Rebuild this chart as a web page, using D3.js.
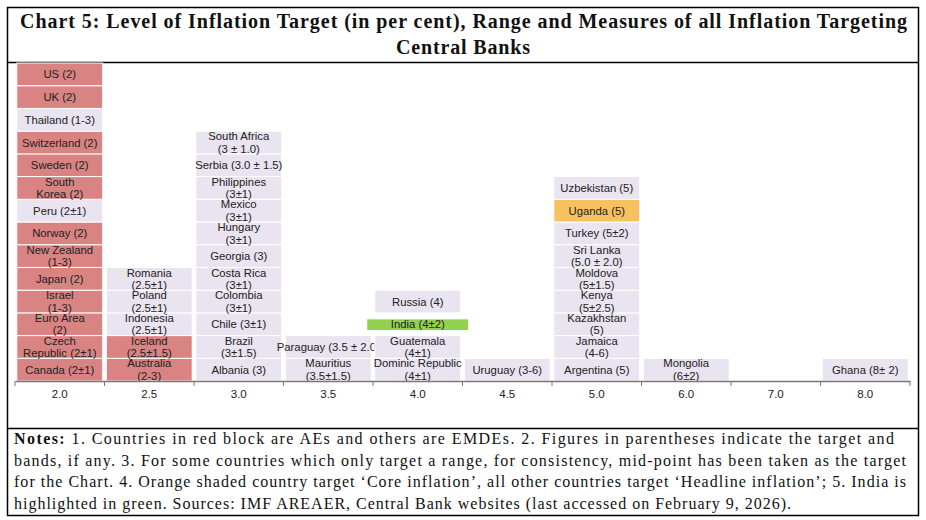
<!DOCTYPE html>
<html><head><meta charset="utf-8">
<script src="https://cdn.jsdelivr.net/npm/d3@7"></script>
<style>body{margin:0;background:#fff}</style></head>
<body><svg id="c" width="926" height="520"></svg>
<script>
const categories = ["2.0","2.5","3.0","3.5","4.0","4.5","5.0","6.0","7.0","8.0"];
// labels per column, bottom to top; "|" = line break
const col20 = ["Canada (2±1)","Czech|Republic (2±1)","Euro Area|(2)","Israel|(1-3)","Japan (2)","New Zealand|(1-3)","Norway (2)","Peru (2±1)","South|Korea (2)","Sweden (2)","Switzerland (2)","Thailand (1-3)","UK (2)","US (2)"];
const type20 = ["ae","ae","ae","ae","ae","ae","ae","em","ae","ae","ae","em","ae","ae"];
const col25 = ["Australia|(2-3)","Iceland|(2.5±1.5)","Indonesia|(2.5±1)","Poland|(2.5±1)","Romania|(2.5±1)"];
const type25 = ["ae","ae","em","em","em"];
const col30 = ["Albania (3)","Brazil|(3±1.5)","Chile (3±1)","Colombia|(3±1)","Costa Rica|(3±1)","Georgia (3)","Hungary|(3±1)","Mexico|(3±1)","Philippines|(3±1)","Serbia (3.0 ± 1.5)","South Africa|(3 ± 1.0)"];
const col35 = ["Mauritius|(3.5±1.5)","Paraguay (3.5 ± 2.0)"];
const col40 = ["Dominic Republic|(4±1)","Guatemala|(4±1)","India (4±2)","Russia (4)"];
const type40 = ["em","em","india","em"];
const col45 = ["Uruguay (3-6)"];
const col50 = ["Argentina (5)","Jamaica|(4-6)","Kazakhstan|(5)","Kenya|(5±2.5)","Moldova|(5±1.5)","Sri Lanka|(5.0 ± 2.0)","Turkey (5±2)","Uganda (5)","Uzbekistan (5)"];
const type50 = ["em","em","em","em","em","em","em","core","em"];
const col60 = ["Mongolia|(6±2)"];
const col70 = [];
const col80 = ["Ghana (8± 2)"];
const columns = [col20,col25,col30,col35,col40,col45,col50,col60,col70,col80];
const types = [type20,type25,null,null,type40,null,type50,null,null,null];

const colors = {ae:"#d98383", em:"#e9e4f0", india:"#92d050", core:"#f7c160"};
const svg = d3.select("#c");
svg.append("rect").attr("x",7.5).attr("y",7.5).attr("width",911).attr("height",508).attr("fill","none").attr("stroke","#000").attr("stroke-width",1.5);
svg.append("line").attr("x1",7).attr("x2",919).attr("y1",62.5).attr("y2",62.5).attr("stroke","#000").attr("stroke-width",1.5);
svg.append("line").attr("x1",7).attr("x2",919).attr("y1",428.5).attr("y2",428.5).attr("stroke","#000").attr("stroke-width",1.5);
const tf = "'Liberation Serif','DejaVu Serif',serif";
svg.append("text").attr("x",20).attr("y",28).attr("font-family",tf).attr("font-weight","bold").attr("font-size",20).attr("fill","#111")
  .attr("textLength",887).attr("lengthAdjust","spacing")
  .text("Chart 5: Level of Inflation Target (in per cent), Range and Measures of all Inflation Targeting");
svg.append("text").attr("x",463).attr("y",54).attr("text-anchor","middle").attr("font-family",tf).attr("font-weight","bold").attr("font-size",20).attr("fill","#111")
  .attr("textLength",134).attr("lengthAdjust","spacing").text("Central Banks");

const x = d3.scaleBand().domain(categories).range([15,910]).paddingInner(0.04).paddingOuter(0.02);
const maxN = 14;
const y = d3.scaleLinear().domain([0,maxN]).range([381,63]);
const sf = "'Liberation Sans',Arial,sans-serif";
columns.forEach((col,ci)=>{
  const cat = categories[ci];
  col.forEach((lab,i)=>{
    const t = types[ci] ? types[ci][i] : "em";
    const wide = t==="india" ? 8 : 0;
    const g = svg.append("g");
    const h = y(i)-y(i+1);
    g.append("rect").attr("x",x(cat)-wide).attr("y",y(i+1)+(t==="india"?6:0)).attr("width",x.bandwidth()+2*wide)
      .attr("height",t==="india"?h-11:h).attr("fill",colors[t]).attr("stroke","#fff").attr("stroke-width",1);
    const lines = lab.split("|");
    const cy = (y(i)+y(i+1))/2;
    lines.forEach((ln,k)=>{
      g.append("text").attr("x",x(cat)+x.bandwidth()/2)
        .attr("y",cy + (k-(lines.length-1)/2)*12.5 + 4)
        .attr("text-anchor","middle").attr("font-family",sf).attr("font-size",11.3).attr("fill","#222").text(ln);
    });
  });
});
const ax = svg.append("g").attr("transform","translate(0,381)")
  .call(d3.axisBottom(x).tickSize(0).tickPadding(9));
ax.select(".domain").attr("stroke","#777").attr("stroke-width",1.5);
ax.selectAll("text").attr("font-family",sf).attr("font-size",11.5).attr("fill","#222");
const step = x.step();
categories.concat(["end"]).forEach((c,i)=>{
  const xx = 15 + x.paddingOuter()*step + i*step - x.paddingInner()*step/2;
  svg.append("line").attr("x1",xx).attr("x2",xx).attr("y1",381).attr("y2",386).attr("stroke","#777");
});
const notes = [
 ["Notes:"," 1. Countries in red block are AEs and others are EMDEs. 2. Figures in parentheses indicate the target and", 880],
 ["","bands, if any. 3. For some countries which only target a range, for consistency, mid-point has been taken as the target", 892],
 ["","for the Chart. 4. Orange shaded country target ‘Core inflation’, all other countries target ‘Headline inflation’; 5. India is", 892],
 ["","highlighted in green. Sources: IMF AREAER, Central Bank websites (last accessed on February 9, 2026).", 777]
];
notes.forEach((n,i)=>{
  const t = svg.append("text").attr("x",14).attr("y",444+i*21.7).attr("font-family",tf).attr("font-size",16).attr("fill","#111")
    .attr("xml:space","preserve").attr("textLength",n[2]).attr("lengthAdjust","spacing");
  if(n[0]) t.append("tspan").attr("font-weight","bold").text(n[0]);
  t.append("tspan").text(n[1]);
});
</script></body></html>
